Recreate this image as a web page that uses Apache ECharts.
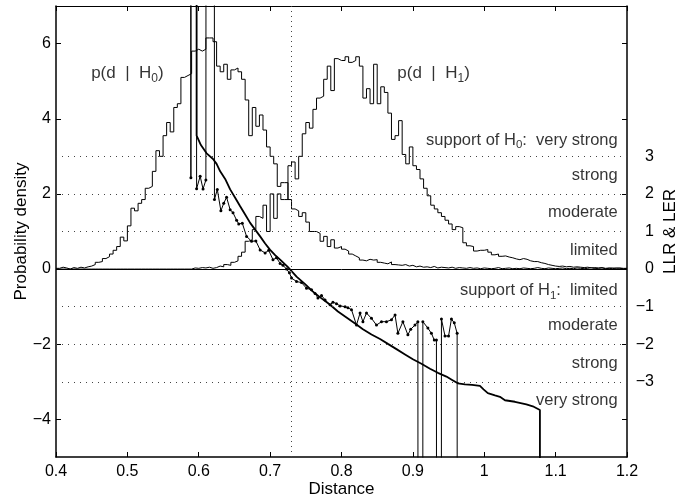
<!DOCTYPE html>
<html>
<head>
<meta charset="utf-8">
<script src="https://cdn.jsdelivr.net/npm/echarts@6/dist/echarts.min.js"></script>
<style>html,body{margin:0;padding:0;background:#fff}#c{width:687px;height:499px}</style>
</head>
<body>
<div id="c"></div>
<script>
// ---- data ----
const binStart = 0.4, binWidth = 0.005;
const h0 = [
  0.02,0.05,0.03,0.00,0.04,0.02,0.05,0.03,0.06,0.08,
  0.12,0.18,0.20,0.28,0.33,0.40,0.50,0.60,0.85,0.75,
  1.15,1.62,1.55,1.75,1.85,2.15,2.20,2.60,3.15,3.00,
  3.55,3.90,3.65,4.30,4.40,5.10,5.15,5.20,5.80,5.85,
  5.80,5.85,6.15,6.15,6.05,5.40,5.25,5.45,5.05,5.30,
  5.35,5.25,5.05,4.50,3.55,4.30,3.80,4.10,3.70,3.25,
  3.00,2.80,2.20,2.30,2.30,1.85,1.60,1.55,1.40,1.50,
  1.25,1.00,1.00,0.95,0.74,0.87,0.60,0.78,0.56,0.60,
  0.53,0.48,0.40,0.35,0.30,0.24,0.22,0.26,0.24,0.25,
  0.18,0.16,0.14,0.19,0.12,0.11,0.10,0.12,0.08,0.10,
  0.06,0.08,0.05,0.06,0.04,0.07,0.03,0.05,0.04,0.03,
  0.05,0.02,0.04,0.03,0.02,0.04,0.02,0.03,0.01,0.03,
  0.02,0.01,0.02,0.04,0.01,0.02,0.03,0.01,0.02,0.01,
  0.03,0.02,0.01,0.02,0.04,0.02,0.01,0.03,0.02,0.01,
  0.02,0.03,0.01,0.02,0.01,0.03,0.02,0.01,0.02,0.04,
  0.01,0.02,0.03,0.01,0.02,0.01,0.03,0.02,0.01,0.02
];
const h1 = [
  0,0,0,0,0,0,0,0,0,0,
  0,0,0,0,0,0,0,0,0,0,
  0,0,0,0,0,0,0,0,0,0,
  0,0,0,0,0,0,0,0,0.03,0.02,
  0.04,0.03,0.05,0.02,0.04,0.08,0.06,0.12,0.10,0.18,
  0.22,0.34,0.45,0.74,0.78,1.05,1.40,1.35,1.70,1.00,
  2.00,1.35,2.00,1.85,1.85,2.75,2.85,2.40,3.00,3.60,
  3.90,3.75,4.25,4.55,4.60,5.05,5.40,4.75,5.60,5.55,
  5.55,5.65,5.50,5.55,5.65,5.40,4.55,4.80,4.40,5.45,
  4.40,4.85,4.70,4.15,3.45,3.55,3.95,3.05,2.80,3.25,
  2.75,2.65,2.40,2.15,1.95,1.70,1.60,1.50,1.40,1.30,
  1.20,1.05,1.13,1.10,0.70,0.62,0.60,0.48,0.50,0.50,
  0.52,0.45,0.38,0.40,0.34,0.35,0.32,0.30,0.27,0.25,
  0.28,0.26,0.22,0.20,0.20,0.17,0.15,0.12,0.10,0.08,
  0.07,0.08,0.06,0.07,0.05,0.06,0.05,0.04,0.05,0.03,
  0.04,0.03,0.04,0.02,0.03,0.03,0.02,0.03,0.02,0.02
];
// LLR (points; +/-100 = off-scale, infinite)
const llrX = [0.586,0.589,0.591,0.595,0.597,0.602,0.606,0.610,0.612,0.620,0.622,0.626,0.631,0.635,0.639,0.644,0.648,0.653,0.656,0.661,
  0.667,0.674,0.680,0.686,0.693,0.698,0.704,0.709,0.714,0.718,0.723,0.727,0.730,0.737,0.744,0.751,0.758,0.763,0.767,0.772,
  0.777,0.784,0.788,0.793,0.798,0.805,0.809,0.814,0.821,0.826,0.830,0.835,0.842,0.849,0.856,0.863,0.870,0.875,0.879,0.886,
  0.893,0.897,0.903,0.907,0.910,0.913,0.914,0.921,0.926,0.930,0.933,0.935,0.939,0.940,0.945,0.950,0.954,0.958,0.962,0.964];
const llrY = [100,2.43,100,100,2.14,2.47,2.13,2.37,100,100,1.85,2.12,1.55,1.75,1.91,1.58,1.50,1.30,1.20,1.22,
  0.87,0.74,0.75,0.51,0.43,0.50,0.25,0.30,0.15,0.10,0.00,-0.10,-0.24,-0.33,-0.36,-0.51,-0.55,-0.65,-0.77,-0.70,
  -0.82,-0.95,-0.88,-0.92,-0.98,-1.00,-1.03,-1.08,-1.49,-1.17,-1.40,-1.17,-1.31,-1.49,-1.40,-1.40,-1.35,-1.22,-1.71,-1.40,
  -1.75,-1.60,-1.49,-1.40,-100,-100,-1.40,-1.57,-1.71,-1.89,-1.89,-100,-100,-1.33,-1.78,-1.78,-1.33,-1.43,-1.71,-100];
// LER (smooth curve)
const lerX = [0.597,0.597,0.603,0.611,0.620,0.625,0.630,0.637,0.644,0.651,0.658,0.665,0.672,0.679,0.686,0.693,0.700,0.707,0.714,0.725,
  0.737,0.749,0.760,0.772,0.784,0.795,0.807,0.819,0.830,0.842,0.854,0.865,0.877,0.889,0.900,0.912,0.924,0.935,0.947,0.955,
  0.963,0.973,0.983,0.994,0.999,1.005,1.015,1.022,1.029,1.043,1.059,1.068,1.078,1.079];
const lerY = [100,3.55,3.30,3.08,2.93,2.80,2.60,2.40,2.12,1.90,1.67,1.45,1.23,1.05,0.87,0.68,0.51,0.37,0.25,0.05,
  -0.20,-0.40,-0.60,-0.78,-0.95,-1.13,-1.29,-1.45,-1.60,-1.74,-1.86,-1.99,-2.13,-2.27,-2.40,-2.52,-2.65,-2.76,-2.86,-2.95,
  -3.04,-3.07,-3.08,-3.11,-3.20,-3.30,-3.36,-3.40,-3.49,-3.53,-3.60,-3.65,-3.75,-100];
const thresholdX = 0.729;
const xRange = [0.4, 1.2];
const yRange = [-5, 7];
const leftTicks = [-4,-2,0,2,4,6];
const rightLabels = [-3,-2,-1,0,1,2,3];
const gridLevels = [-3,-2,-1,1,2,3];
const bandLevels = [4,3,2,1,0,-1,-2,-3,-4];
const bandTexts = [
  '{n|support of H}{s|0}{n|:  very strong}',
  '{n|strong}',
  '{n|moderate}',
  '{n|limited}',
  '{n|support of H}{s|1}{n|:  limited}',
  '{n|moderate}',
  '{n|strong}',
  '{n|very strong}'
];
const densityLabels = [
  {x: 0.5, y: 5.2, text: '{n|p(d  |  H}{s|0}{n|)}'},
  {x: 0.929, y: 5.2, text: '{n|p(d  |  H}{s|1}{n|)}'}
];

// ---- build ----
function hist(vals) {
  const d = vals.map((v, i) => [binStart + i * binWidth, v]);
  d.push([xRange[1], vals[vals.length - 1]]);
  return d;
}
const zip = (a, b) => a.map((x, i) => [x, b[i]]);
const FONT = '"Liberation Sans", Arial, Helvetica, sans-serif';
const minus = v => String(v).replace('-', '\u2212');
const rich = {
  n: {fontFamily: FONT, fontSize: 16.5, color: '#000'},
  s: {fontFamily: FONT, fontSize: 11.5, color: '#000', padding: [9, 0, 0, 0]}
};
const bandData = bandTexts.map((t, i) => ({
  value: [1.187, (bandLevels[i] + bandLevels[i + 1]) / 2], t,
  label: {offset: [0, t.indexOf('{s|') >= 0 ? 3 : 0]}
}));

const chart = echarts.init(document.getElementById('c'), null, {renderer: 'canvas'});
chart.setOption({
  animation: false,
  backgroundColor: '#fff',
  grid: {left: 56, right: 60, top: 6, bottom: 42, containLabel: false, outerBoundsMode: 'none'},
  xAxis: [{
    type: 'value', min: xRange[0], max: xRange[1], interval: 0.1,
    name: 'Distance', nameLocation: 'middle', nameGap: 24, nameMoveOverlap: false,
    nameTextStyle: {fontFamily: FONT, fontSize: 17, color: '#000'},
    axisLine: {show: true, onZero: false, lineStyle: {color: '#000', width: 1.5}},
    axisTick: {show: true, inside: true, length: 5, lineStyle: {color: '#000'}},
    axisLabel: {fontFamily: FONT, fontSize: 16, color: '#000', margin: 7,
      formatter: v => String(Math.round(v * 10) / 10)},
    splitLine: {show: false}
  }, {
    type: 'value', min: xRange[0], max: xRange[1], interval: 0.1, position: 'top',
    axisLine: {show: true, onZero: false, lineStyle: {color: '#000', width: 1}},
    axisTick: {show: true, inside: true, length: 5, lineStyle: {color: '#000'}},
    axisLabel: {show: false}, splitLine: {show: false}
  }],
  yAxis: [{
    type: 'value', min: yRange[0], max: yRange[1], position: 'left',
    name: 'Probability density', nameLocation: 'middle', nameGap: 26, nameRotate: 90, nameMoveOverlap: false,
    nameTextStyle: {fontFamily: FONT, fontSize: 17, color: '#000'},
    axisLine: {show: true, onZero: false, lineStyle: {color: '#000', width: 1.5}},
    axisTick: {show: true, inside: true, length: 5, customValues: leftTicks, lineStyle: {color: '#000'}},
    axisLabel: {fontFamily: FONT, fontSize: 16, color: '#000', margin: 5, customValues: leftTicks, formatter: minus},
    splitLine: {show: false}
  }, {
    type: 'value', min: yRange[0], max: yRange[1], position: 'right',
    name: 'LLR & LER', nameLocation: 'middle', nameGap: 35, nameRotate: 90, nameMoveOverlap: false,
    nameTextStyle: {fontFamily: FONT, fontSize: 17, color: '#000'},
    axisLine: {show: true, onZero: false, lineStyle: {color: '#000', width: 1.5}},
    axisTick: {show: true, inside: true, length: 5, customValues: leftTicks, lineStyle: {color: '#000'}},
    axisLabel: {fontFamily: FONT, fontSize: 16, color: '#000', margin: 27, align: 'right', customValues: rightLabels, formatter: minus},
    splitLine: {show: false}
  }],
  series: [{
    type: 'line', name: 'H0', data: hist(h0), step: 'end', symbol: 'none',
    lineStyle: {color: '#000', width: 1}, z: 3,
    markLine: {
      silent: true, symbol: 'none', label: {show: false}, animation: false,
      data: gridLevels.map(v => ({yAxis: v, lineStyle: {type: [1, 5], color: '#444', width: 1}}))
        .concat([{xAxis: thresholdX, lineStyle: {type: [1, 4], color: '#444', width: 1}},
                 {yAxis: 0, lineStyle: {type: 'solid', color: '#000', width: 1}}])
    }
  }, {
    type: 'line', name: 'H1', data: hist(h1), step: 'end', symbol: 'none',
    lineStyle: {color: '#000', width: 1}, z: 3
  }, {
    type: 'line', name: 'LER', data: zip(lerX, lerY), symbol: 'none', clip: true,
    lineStyle: {color: '#000', width: 1.8}, z: 4
  }, {
    type: 'line', name: 'LLR', data: zip(llrX, llrY), symbol: 'circle', symbolSize: 3, clip: true,
    itemStyle: {color: '#000'}, lineStyle: {color: '#000', width: 1}, z: 5
  }, {
    type: 'scatter', data: bandData, symbolSize: 0, silent: true, z: 6,
    label: {show: true, position: 'left', distance: 0, formatter: p => p.data.t, rich}
  }, {
    type: 'scatter', data: densityLabels.map(d => ({value: [d.x, d.y], t: d.text})), symbolSize: 0, silent: true, z: 6,
    label: {show: true, position: 'inside', formatter: p => p.data.t,
      rich: {n: {fontFamily: FONT, fontSize: 17, color: '#000'}, s: {fontFamily: FONT, fontSize: 12, color: '#000', padding: [10, 0, 0, 0]}}}
  }]
});
</script>
</body>
</html>
